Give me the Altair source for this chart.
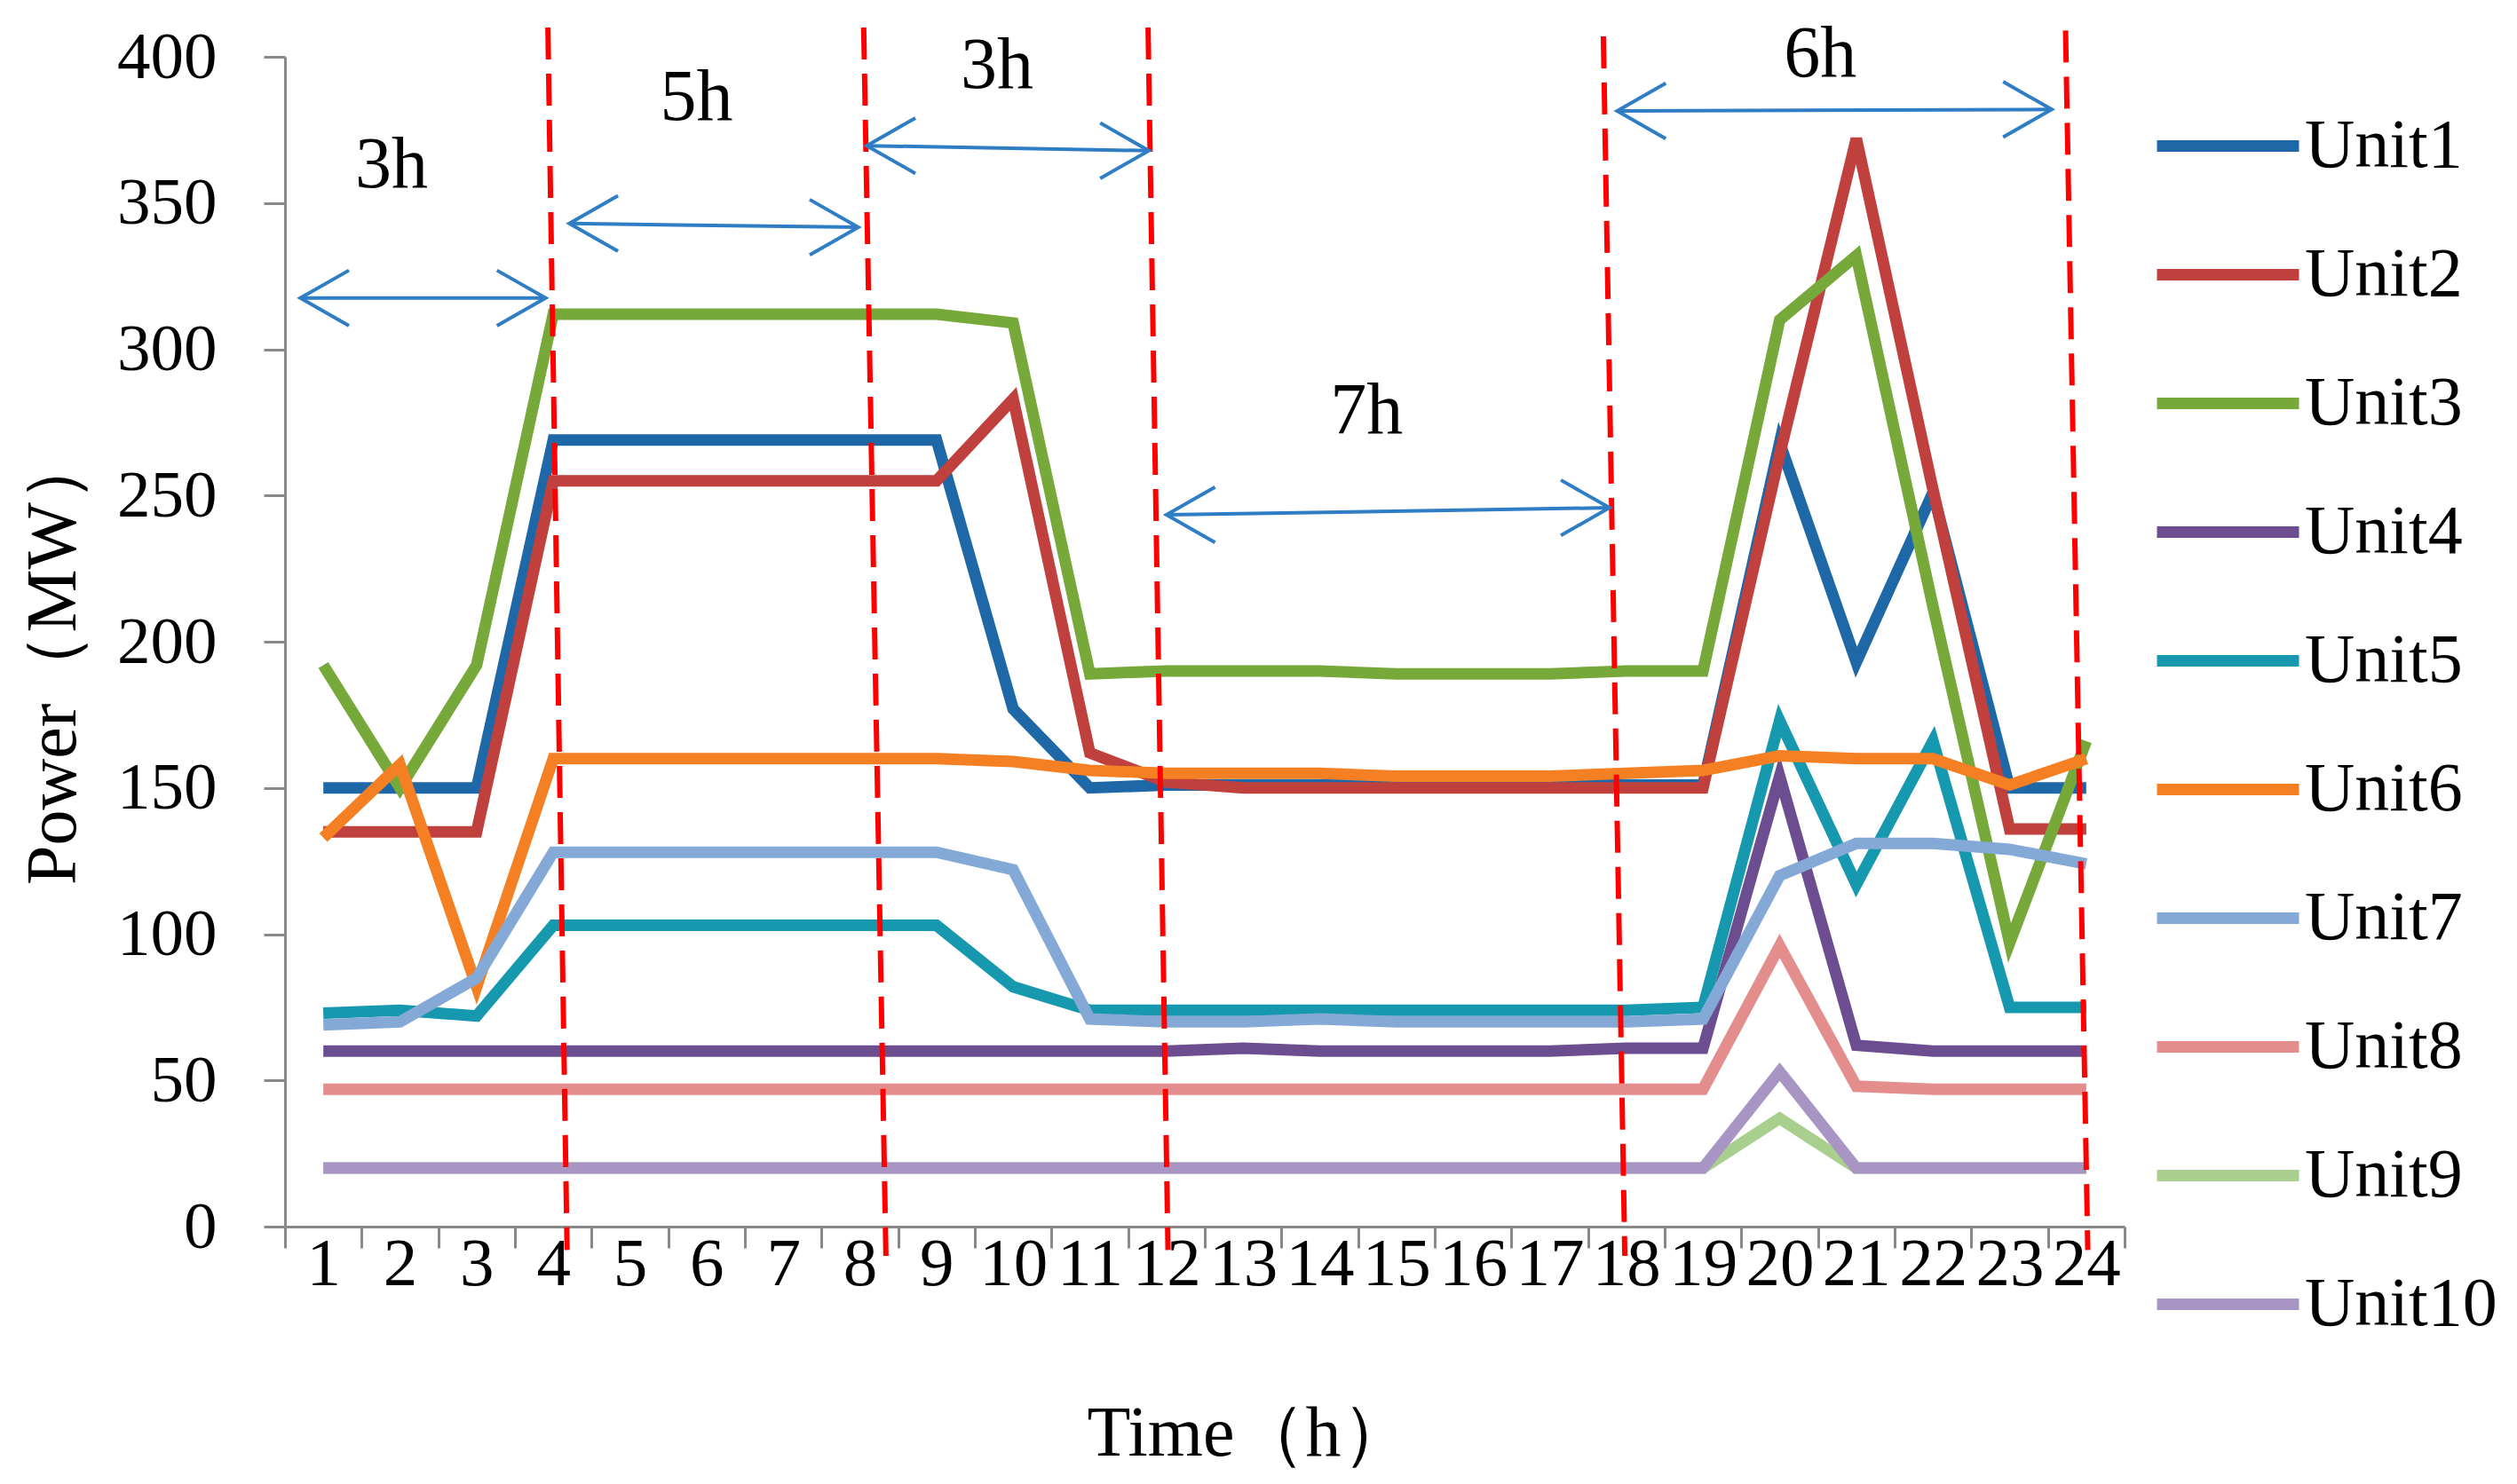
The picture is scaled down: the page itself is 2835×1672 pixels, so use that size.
import altair as alt
import pandas as pd

hours = [1, 2, 3, 4, 5, 6, 7, 8, 9, 10, 11, 12, 13, 14, 15, 16, 17, 18, 19, 20, 21, 22, 23, 24]
units = ["Unit1", "Unit2", "Unit3", "Unit4", "Unit5", "Unit6", "Unit7", "Unit8", "Unit9", "Unit10"]
colors = ["#1E68A8", "#C0403D", "#76A83A", "#6B4D90", "#1698AF",
          "#F58024", "#84A9D6", "#E38D8C", "#A8CF8E", "#A895C4"]

unit1 = [150, 150, 150, 269, 269, 269, 269, 269, 269, 177, 150, 151, 151, 151, 151, 151, 151, 151, 151, 268, 193, 251, 150, 150]
unit2 = [135, 135, 135, 255, 255, 255, 255, 255, 255, 283, 162, 152, 150, 150, 150, 150, 150, 150, 150, 264, 372, 252, 136, 136]
unit3 = [192, 150, 192, 312, 312, 312, 312, 312, 312, 309, 189, 190, 190, 190, 189, 189, 189, 190, 190, 310, 332, 212, 97, 166]
unit4 = [60, 60, 60, 60, 60, 60, 60, 60, 60, 60, 60, 60, 61, 60, 60, 60, 60, 61, 61, 154, 62, 60, 60, 60]
unit5 = [73, 74, 72, 103, 103, 103, 103, 103, 103, 82, 74, 74, 74, 74, 74, 74, 74, 74, 75, 173, 117, 166, 75, 75]
unit6 = [133, 158, 82, 160, 160, 160, 160, 160, 160, 159, 156, 155, 155, 155, 154, 154, 154, 155, 156, 161, 160, 160, 151, 160]
unit7 = [69, 70, 85, 128, 128, 128, 128, 128, 128, 122, 71, 70, 70, 71, 70, 70, 70, 70, 71, 120, 131, 131, 129, 124]
unit8 = [47, 47, 47, 47, 47, 47, 47, 47, 47, 47, 47, 47, 47, 47, 47, 47, 47, 47, 47, 96, 48, 47, 47, 47]
unit9 = [20, 20, 20, 20, 20, 20, 20, 20, 20, 20, 20, 20, 20, 20, 20, 20, 20, 20, 20, 37, 20, 20, 20, 20]
unit10 = [20, 20, 20, 20, 20, 20, 20, 20, 20, 20, 20, 20, 20, 20, 20, 20, 20, 20, 20, 53, 20, 20, 20, 20]
series = [unit1, unit2, unit3, unit4, unit5, unit6, unit7, unit8, unit9, unit10]

y_ticks = [0, 50, 100, 150, 200, 250, 300, 350, 400]

# red dashed separators (hour position at top and at bottom of the line)
sep_top_x = [3.93, 8.05, 11.76, 17.70, 23.73]
sep_bot_x = [4.18, 8.34, 12.02, 17.98, 24.02]
sep_top_y = [410, 410, 410, 407, 409]
sep_bot_y = [-8, -10, -8, -10, -8]

# blue double arrows
arr_x1 = [0.70, 4.21, 8.09, 12.00, 17.88]
arr_x2 = [3.90, 7.98, 11.77, 17.78, 23.55]
arr_y1 = [317.5, 343.0, 369.6, 243.4, 381.5]
arr_y2 = [317.5, 341.7, 367.9, 245.8, 382.0]

# duration labels
lab_text = ["3h", "5h", "3h", "7h", "6h"]
lab_x = [1.89, 5.87, 9.79, 14.61, 20.53]
lab_y = [363, 386, 397, 279, 401]

FONT = "Liberation Serif"
AXIS_GRAY = "#898989"
ARROW_BLUE = "#2F7DC4"

rows = []
for name, vals in zip(units, series):
    for h, v in zip(hours, vals):
        rows.append({"unit": name, "hour": h, "power": v})
df = pd.DataFrame(rows)

df_sep = pd.DataFrame({"xt": sep_top_x, "xb": sep_bot_x, "yt": sep_top_y, "yb": sep_bot_y})
df_arr = pd.DataFrame({"x1": arr_x1, "x2": arr_x2, "y1": arr_y1, "y2": arr_y2})
df_lab = pd.DataFrame({"t": lab_text, "x": lab_x, "y": lab_y})
tick_pos = [h - 0.5 for h in hours] + [hours[-1] + 0.5]
df_ticks = pd.DataFrame({"t": tick_pos})

x_scale = alt.Scale(domain=[0.5, 24.5], nice=False, zero=False)
y_scale = alt.Scale(domain=[0, 400], nice=False, zero=True)

y_axis = alt.Axis(
    values=y_ticks, tickSize=24, tickColor=AXIS_GRAY, tickWidth=3, domainColor=AXIS_GRAY,
    domainWidth=3, grid=False, labelFontSize=75, labelFont=FONT, labelColor="black",
    labelPadding=53, title="Power（MW）", titleFont=FONT, titleFontSize=80,
    titleFontWeight="normal", titleColor="black", titleX=-261, titleY=677,
    titleAngle=270, titleBaseline="middle", titleAlign="center")


def ypos(field):
    return alt.Y(field, scale=y_scale, axis=y_axis, title="Power（MW）")


lines = alt.Chart(df).mark_line(strokeWidth=13, clip=False).encode(
    x=alt.X("hour:Q", scale=x_scale, axis=alt.Axis(
        values=hours, ticks=False, labelFontSize=77, labelFont=FONT, labelColor="black",
        labelPadding=4, labelFlush=False, labelOverlap=False, domainColor=AXIS_GRAY, domainWidth=3,
        grid=False, orient="bottom", title="Time（h）", titleFont=FONT, titleFontSize=80,
        titleFontWeight="normal", titleColor="black", titleX=1086, titleY=233,
        titleBaseline="middle", titleAlign="center")),
    y=ypos("power:Q"),
    color=alt.Color("unit:N", sort=units, scale=alt.Scale(domain=units, range=colors),
                    legend=alt.Legend(orient="none", legendX=2102, legendY=14, title=None,
                                      symbolType="stroke", symbolSize=25600, symbolStrokeWidth=13,
                                      labelFont=FONT, labelFontSize=78, labelColor="black",
                                      labelLimit=500, rowPadding=19, labelOffset=0)),
)

ticks = alt.Chart(df_ticks).mark_point(opacity=0).encode(
    x=alt.X("t:Q", scale=x_scale, axis=alt.Axis(
        values=tick_pos, labels=False, tickSize=24, tickColor=AXIS_GRAY, tickWidth=3,
        domain=False, grid=False, title=None, orient="bottom")),
)

seps = alt.Chart(df_sep).mark_rule(color="#FF0000", strokeWidth=6, strokeDash=[36, 16], clip=False).encode(
    x=alt.X("xt:Q", scale=x_scale, axis=None), x2="xb:Q",
    y=ypos("yt:Q"), y2="yb:Q",
)

arrows = alt.Chart(df_arr).mark_rule(color=ARROW_BLUE, strokeWidth=4).encode(
    x=alt.X("x1:Q", scale=x_scale, axis=None), x2="x2:Q",
    y=ypos("y1:Q"), y2="y2:Q",
)
heads_l = alt.Chart(df_arr).mark_point(shape="M1,-0.57L0,0L1,0.57", size=12000, filled=False,
                                       stroke=ARROW_BLUE, strokeWidth=4, opacity=1).encode(
    x=alt.X("x1:Q", scale=x_scale, axis=None),
    y=ypos("y1:Q"),
)
heads_r = alt.Chart(df_arr).mark_point(shape="M-1,-0.57L0,0L-1,0.57", size=12000, filled=False,
                                       stroke=ARROW_BLUE, strokeWidth=4, opacity=1).encode(
    x=alt.X("x2:Q", scale=x_scale, axis=None),
    y=ypos("y2:Q"),
)

labels = alt.Chart(df_lab).mark_text(font=FONT, fontSize=82, color="black", baseline="middle",
                                     align="center").encode(
    x=alt.X("x:Q", scale=x_scale, axis=None),
    y=ypos("y:Q"),
    text="t:N",
)

chart = alt.layer(lines, ticks, seps, arrows, heads_l, heads_r, labels).resolve_axis(
    x="independent"
).properties(
    width=2072, height=1318,
    padding={"left": 313, "top": 56, "right": 434, "bottom": 282},
    autosize=alt.AutoSizeParams(type="none"),
    background="white",
).configure_view(stroke=None)

chart.save("out.html", embed_options={"renderer": "svg", "actions": False})
